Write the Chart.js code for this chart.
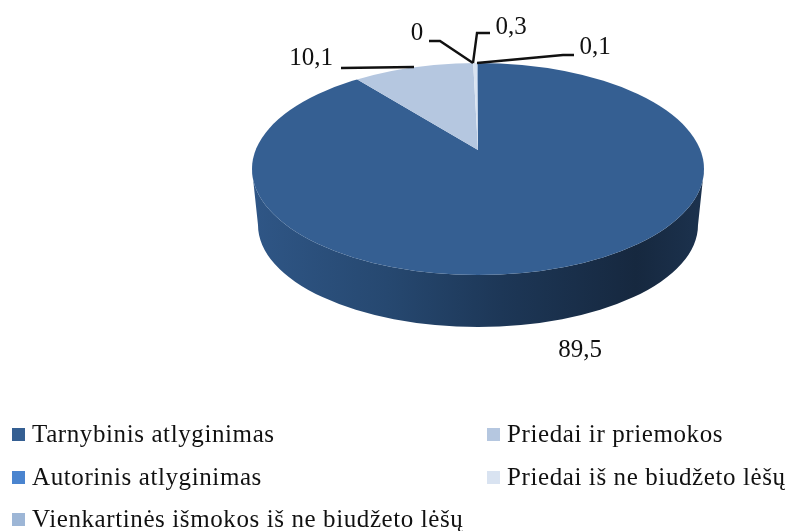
<!DOCTYPE html>
<html>
<head>
<meta charset="utf-8">
<style>
  html, body { margin: 0; background: #fff; }
  canvas { display: block; }
</style>
<script src="https://cdn.jsdelivr.net/npm/chart.js@4"></script>
</head>
<body>
<canvas id="myChart" width="789" height="531"></canvas>
<script>
const categories = [
    'Tarnybinis atlyginimas',
    'Priedai ir priemokos',
    'Autorinis atlyginimas',
    'Priedai iš ne biudžeto lėšų',
    'Vienkartinės išmokos iš ne biudžeto lėšų'
];
const values = [89.5, 10.1, 0, 0.3, 0.1];
const valueLabels = ['89,5', '10,1', '0', '0,3', '0,1'];
const sliceColors = ['#355f92', '#b5c7e0', '#4a84cf', '#d9e3f1', '#9db6d6'];

// top face: ellipse outline and the point the slices meet at (off centre, perspective)
const face = { cx: 478, cy: 169, rx: 226, ry: 106, pivotY: 150 };
const faceScale = { x: 236, up: 107, down: 138 };
const base = { cy: 225, rx: 220, ry: 102 };

// label x, y, then the leader polyline
const labelLayout = [
    { x: 580, y: 350, line: null },
    { x: 311, y: 58, line: [[341, 68], [414, 67]] },
    { x: 417, y: 33, line: [[429, 41], [440, 41], [473, 63]] },
    { x: 511, y: 27, line: [[490, 33], [477, 33], [473, 63]] },
    { x: 595, y: 47, line: [[574, 55], [563, 55], [477, 63]] }
];
// swatch left edge and text baseline
const legendLayout = [
    { x: 12, y: 442 }, { x: 487, y: 442 },
    { x: 12, y: 485 }, { x: 487, y: 485 },
    { x: 12, y: 527 }
];

const pie3d = {
    id: 'pie3d',
    beforeDatasetsDraw(chart) {
        const ctx = chart.ctx;
        const arcs = chart.getDatasetMeta(0).data;
        const R = arcs[0].outerRadius;

        // side wall
        const side = ctx.createLinearGradient(face.cx - face.rx, 0, face.cx + face.rx, 0);
        side.addColorStop(0, '#2f5686');
        side.addColorStop(0.3, '#264870');
        side.addColorStop(0.55, '#1d3757');
        side.addColorStop(0.85, '#16283f');
        side.addColorStop(1, '#1c324e');
        ctx.save();
        ctx.fillStyle = side;
        ctx.beginPath();
        ctx.ellipse(face.cx, face.cy, face.rx, face.ry, 0, 0, Math.PI);
        ctx.ellipse(face.cx, base.cy, base.rx, base.ry, 0, Math.PI, 0, true);
        ctx.closePath();
        ctx.fill();
        ctx.restore();

        // top face: the library's arcs, squashed separately above and below the pivot
        const halves = [
            { top: 0, h: face.pivotY, sy: faceScale.up },
            { top: face.pivotY, h: chart.height, sy: faceScale.down }
        ];
        ctx.save();
        ctx.beginPath();
        ctx.ellipse(face.cx, face.cy, face.rx, face.ry, 0, 0, Math.PI * 2);
        ctx.clip();
        halves.forEach(function (half) {
            ctx.save();
            ctx.beginPath();
            ctx.rect(0, half.top, chart.width, half.h);
            ctx.clip();
            ctx.translate(face.cx, face.pivotY);
            ctx.scale(faceScale.x / R, half.sy / R);
            ctx.translate(-arcs[0].x, -arcs[0].y);
            arcs.forEach(function (arc) { arc.draw(ctx); });
            ctx.restore();
        });
        ctx.restore();
        return false;
    },
    afterDraw(chart) {
        const ctx = chart.ctx;
        ctx.save();
        ctx.textBaseline = 'middle';
        ctx.fillStyle = '#111';
        ctx.strokeStyle = '#111';
        ctx.lineWidth = 2.4;

        ctx.font = '25px "Liberation Serif"';
        ctx.textAlign = 'center';
        valueLabels.forEach(function (text, i) {
            const l = labelLayout[i];
            ctx.fillText(text, l.x, l.y);
            if (!l.line) return;
            ctx.beginPath();
            l.line.forEach(function (p, j) {
                if (j === 0) ctx.moveTo(p[0], p[1]);
                else ctx.lineTo(p[0], p[1]);
            });
            ctx.stroke();
        });

        ctx.letterSpacing = '0.6px';
        ctx.textAlign = 'left';
        ctx.textBaseline = 'alphabetic';
        categories.forEach(function (text, i) {
            const l = legendLayout[i];
            ctx.fillStyle = sliceColors[i];
            ctx.fillRect(l.x, l.y - 14, 13, 13);
            ctx.fillStyle = '#111';
            ctx.fillText(text, l.x + 20, l.y);
        });
        ctx.restore();
    }
};

var myChart = new Chart(document.getElementById('myChart'), {
    type: 'pie',
    data: {
        labels: categories,
        datasets: [{
            data: values,
            backgroundColor: sliceColors,
            borderWidth: 0
        }]
    },
    options: {
        responsive: false,
        animation: false,
        plugins: {
            legend: { display: false },
            tooltip: { enabled: false }
        }
    },
    plugins: [pie3d]
});
</script>
</body>
</html>
